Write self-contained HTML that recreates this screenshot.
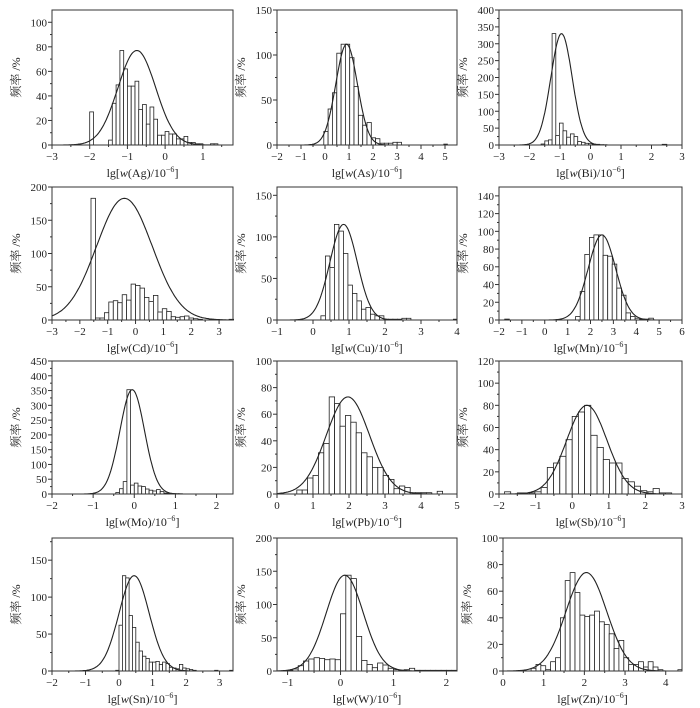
<!DOCTYPE html>
<html><head><meta charset="utf-8">
<style>
html,body{margin:0;padding:0;background:#fff;}
svg{display:block;}
text{font-family:"Liberation Serif","Noto Serif CJK SC",serif;fill:#222;}
</style></head>
<body>
<svg id="s" width="700" height="708" viewBox="0 0 700 708" xmlns="http://www.w3.org/2000/svg"></svg>
<script>
const P=[
 {n:'Ag',b:[52,10,233,145],x:[-3,1.8],y:110,xt:[-3,-2,-1,0,1],yt:[0,20,40,60,80,100],mu:-0.75,pk:77,sg:0.5,h0:-2.0,bw:0.1,h:[27,0,0,0,0,4,34,49,77,62,48,48,52,29,33,17,31,21,8,8,11,9,9,5,5,7,2,2,1,1,0,0,1,1]},
 {n:'As',b:[277,10,457,145],x:[-2,5.5],y:150,xt:[-2,-1,0,1,2,3,4,5],yt:[0,50,100,150],mu:0.9,pk:112,sg:0.45,h0:-0.05,bw:0.18,h:[15,40,58,102,112,112,97,65,33,22,25,8,7,2,2,2,3,3],ex:[[4.95,0.15,1]]},
 {n:'Bi',b:[499,10,682,145],x:[-3,3],y:400,xt:[-3,-2,-1,0,1,2,3],yt:[0,50,100,150,200,250,300,350,400],mu:-0.95,pk:330,sg:0.35,h0:-1.62,bw:0.12,h:[3,12,15,330,28,65,42,23,33,25,10,8,5,4,2,2,1,1],ex:[[2.35,0.15,2]]},
 {n:'Cd',b:[52,187,233,320],x:[-3,3.5],y:200,xt:[-3,-2,-1,0,1,2,3],yt:[0,50,100,150,200],mu:-0.4,pk:183,sg:1.0,h0:-1.6,bw:0.16,h:[183,3,3,11,27,29,26,38,30,54,52,48,34,28,37,12,17,13,5,4,5,6,3,2,1,0,0,0,0,0,0,1]},
 {n:'Cu',b:[277,187,457,320],x:[-1,4],y:160,xt:[-1,0,1,2,3,4],yt:[0,50,100,150],mu:0.85,pk:115,sg:0.38,h0:0.22,bw:0.125,h:[5,77,63,115,107,80,42,32,23,13,15,7,5,5,1,1,1,1,2,2],ex:[[3.9,0.1,1]]},
 {n:'Mn',b:[499,187,682,320],x:[-2,6],y:150,xt:[-2,-1,0,1,2,3,4,5,6],yt:[0,20,40,60,80,100,120,140],mu:2.5,pk:96,sg:0.6,h0:1.35,bw:0.2,h:[4,32,74,93,96,96,73,72,63,36,28,8,4,2,1,1,2],ex:[[-1.75,0.2,1]]},
 {n:'Mo',b:[52,361,233,494],x:[-2,2.4],y:450,xt:[-2,-1,0,1,2],yt:[0,50,100,150,200,250,300,350,400,450],mu:-0.05,pk:353,sg:0.3,h0:-0.45,bw:0.09,h:[5,18,42,353,30,37,27,25,17,13,10,15,8,3,2,1,1,1]},
 {n:'Pb',b:[277,361,457,494],x:[0,5],y:100,xt:[0,1,2,3,4,5],yt:[0,20,40,60,80,100],mu:1.97,pk:73,sg:0.6,h0:0.55,bw:0.15,h:[3,3,12,14,31,38,73,68,51,59,54,46,31,28,20,20,14,11,4,6,5,1,1,1,1,0,2]},
 {n:'Sb',b:[499,361,682,494],x:[-2,3],y:120,xt:[-2,-1,0,1,2,3],yt:[0,20,40,60,80,100,120],mu:0.4,pk:80,sg:0.55,h0:-0.85,bw:0.17,h:[6,24,28,34,49,70,74,80,53,42,31,28,28,14,11,7,3,2,5,1,1],ex:[[-1.85,0.17,2],[-1.5,0.17,1],[-1.33,0.17,1],[-1.16,0.17,1],[-1.02,0.17,2]]},
 {n:'Sn',b:[52,538,233,671],x:[-2,3.4],y:180,xt:[-2,-1,0,1,2,3],yt:[0,50,100,150],mu:0.45,pk:129,sg:0.45,h0:-0.1,bw:0.1,h:[1,62,129,126,75,59,39,27,20,17,12,12,13,9,12,10,5,4,3,9,4,3,2,1],ex:[[2.85,0.1,1],[3.3,0.1,1]]},
 {n:'W',b:[277,538,457,671],x:[-1.2,2.2],y:200,xt:[-1,0,1,2],yt:[0,50,100,150,200],mu:0.08,pk:144,sg:0.35,h0:-1.0,bw:0.1,h:[1,3,8,15,18,20,19,17,18,17,86,144,139,52,16,10,5,12,9,4,2,1,2,4,1,1,1,1,1,1,1,1]},
 {n:'Zn',b:[503,538,682,671],x:[0,4.4],y:100,xt:[0,1,2,3,4],yt:[0,20,40,60,80,100],mu:2.05,pk:74,sg:0.5,h0:0.69,bw:0.12,h:[2,5,4,1,7,10,40,68,74,59,42,41,42,45,37,35,28,17,23,10,5,5,7,3,7,3,1],ex:[[4.3,0.1,1]]}
];
let s='';
const f=v=>(v<0?'−'+(-v):''+v);
for(const p of P){
 const [L,T,R,B]=p.b;
 const X=v=>L+(v-p.x[0])/(p.x[1]-p.x[0])*(R-L);
 const Y=v=>B-v/p.y*(B-T);
 const bars=p.h.map((h,i)=>[p.h0+i*p.bw,p.bw,h]).concat(p.ex||[]);
 for(const [x0,w,h] of bars){ if(h<=0)continue;
  s+=`<rect x="${X(x0).toFixed(1)}" y="${Y(h).toFixed(1)}" width="${(X(x0+w)-X(x0)).toFixed(1)}" height="${(B-Y(h)).toFixed(1)}" fill="#fff" stroke="#222" stroke-width="0.8"/>`;}
 let d='';
 for(let i=0;i<=200;i++){const v=p.x[0]+(p.x[1]-p.x[0])*i/200;const yv=p.pk*Math.exp(-((v-p.mu)**2)/(2*p.sg*p.sg));d+=(i?'L':'M')+X(v).toFixed(1)+','+Y(yv).toFixed(1);}
 s+=`<path d="${d}" fill="none" stroke="#222" stroke-width="1.1"/>`;
 s+=`<rect x="${L}" y="${T}" width="${R-L}" height="${B-T}" fill="none" stroke="#333" stroke-width="1"/>`;
 for(let i=0;i<p.xt.length;i++){const v=p.xt[i];const x=X(v);
  s+=`<line x1="${x}" y1="${B}" x2="${x}" y2="${B+4}" stroke="#333"/>`;
  s+=`<text x="${x}" y="${B+15}" font-size="11" text-anchor="middle">${f(v)}</text>`;
  const st=p.xt.length>1?p.xt[1]-p.xt[0]:1;const m=v+st/2;if(m<p.x[1]){const xm=X(m);s+=`<line x1="${xm}" y1="${B}" x2="${xm}" y2="${B+2}" stroke="#333"/>`;}
 }
 for(let i=0;i<p.yt.length;i++){const v=p.yt[i];const y=Y(v);
  s+=`<line x1="${L-4}" y1="${y}" x2="${L}" y2="${y}" stroke="#333"/>`;
  s+=`<text x="${L-5}" y="${y+4}" font-size="11" text-anchor="end">${v}</text>`;
  const st=p.yt[1]-p.yt[0];const m=v+st/2;if(m<p.y){const ym=Y(m);s+=`<line x1="${L-2}" y1="${ym}" x2="${L}" y2="${ym}" stroke="#333"/>`;}
 }
 const cy=(T+B)/2, lx=L-32;
 s+=`<text transform="translate(${lx},${cy}) rotate(-90)" font-size="12" text-anchor="middle">频率 /%</text>`;
 s+=`<text x="${(L+R)/2}" y="${B+32}" font-size="12" text-anchor="middle">lg[<tspan font-style="italic">w</tspan>(${p.n})/10<tspan font-size="8" dy="-5">−6</tspan><tspan dy="5">]</tspan></text>`;
}
document.getElementById('s').innerHTML=s;
</script>
</body></html>
